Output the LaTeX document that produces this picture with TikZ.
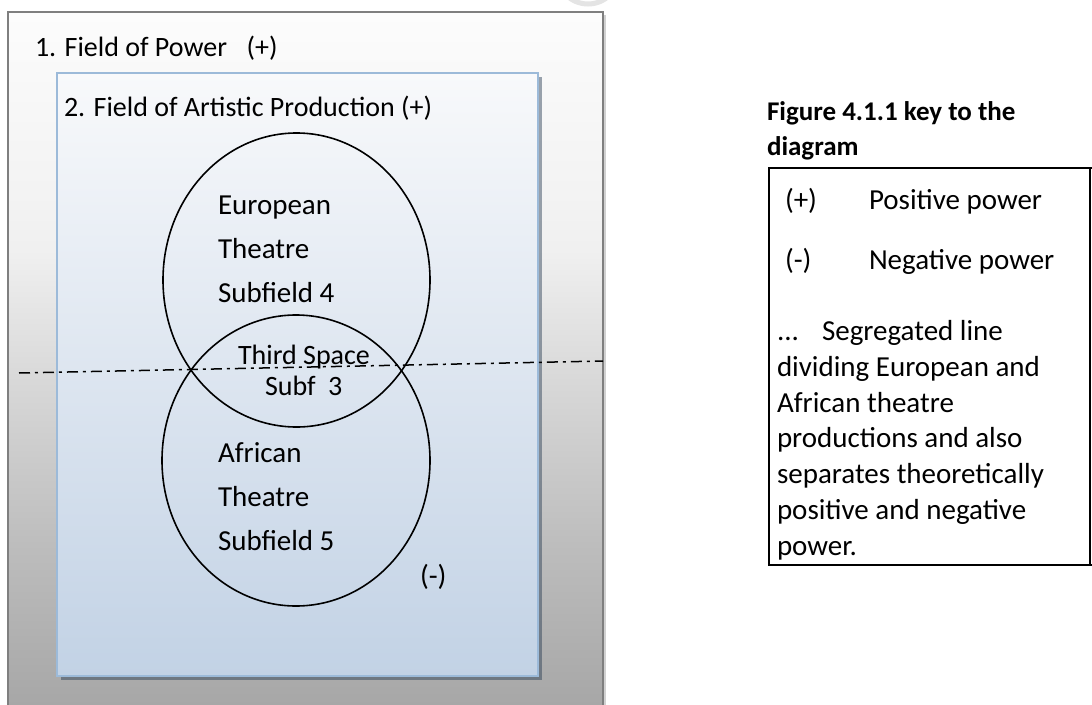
\documentclass[tikz,border=0pt]{standalone}
\usepackage{fontspec}
\setmainfont{Carlito}
\usetikzlibrary{shapes.geometric}

\definecolor{og1}{HTML}{A6A6A6}
\definecolor{og2}{HTML}{BDBDBD}
\definecolor{og3}{HTML}{D9D9D9}
\definecolor{og4}{HTML}{F0F0F0}
\definecolor{og5}{HTML}{FCFCFC}
\definecolor{outerline}{HTML}{7F7F7F}
\definecolor{innertop}{HTML}{F8F9FB}
\definecolor{innerbot}{HTML}{C2D2E5}
\definecolor{innerline}{HTML}{9CBAD9}
\definecolor{innershadow}{HTML}{24384F}
\definecolor{markgray}{HTML}{E4E4E4}

% grey field: nearly white at the top, darkening towards the bottom
\pgfdeclareverticalshading{outershade}{100bp}{%
  color(0bp)=(og1); color(25bp)=(og1); color(37bp)=(og2);
  color(49bp)=(og3); color(58bp)=(og4); color(75bp)=(og5); color(100bp)=(og5)}

\tikzset{
  txt/.style={anchor=base west, inner sep=0pt, outer sep=0pt,
    font=\fontsize{29}{35}\selectfont},
  titletxt/.style={txt, font=\fontsize{28}{34}\selectfont},
  captxt/.style={anchor=base west, inner sep=0pt, outer sep=0pt,
    font=\fontsize{27}{33}\selectfont\bfseries},
  field/.style={ellipse, draw=black, line width=1.6pt, inner sep=0pt},
  divider/.style={draw=black, line width=1.5pt,
    dash pattern=on 11pt off 5pt on 3pt off 5pt},
}

\begin{document}
\begin{tikzpicture}[x=1pt,y=-1pt]
\useasboundingbox (0,0) rectangle (1092,704);
\clip (0,0) rectangle (1092,704);
\fill[white] (0,0) rectangle (1092,704);

% small grey mark at the top edge
\draw[markgray, line width=5pt] (588,-27) circle (31);

% 1. Field of Power
\fill[black, opacity=0.18] (11,15) rectangle (606,712);
\path[shading=outershade] (8,12) rectangle (603,712);
\draw[outerline, line width=2pt] (8,712) -- (8,12) -- (603,12) -- (603,712);
\node[titletxt] (fop) at (35,56) {1. Field of Power\hspace{0.7em}(+)};

% 2. Field of Artistic Production
\fill[innershadow, opacity=0.45] (61,77) rectangle (542,680);
\path[top color=innertop, bottom color=innerbot] (57,73) rectangle (538,676);
\draw[innerline, line width=2pt] (57,73) rectangle (538,676);
\node[titletxt] (fap) at (64,116) {2. Field of Artistic Production (+)};

% the two subfields
\node[field, minimum width=267pt, minimum height=294pt] (euro) at (296.5,280) {};
\node[field, minimum width=268pt, minimum height=291pt] (afri) at (296,460.5) {};

% segregating line
\coordinate (segL) at (19,373);
\coordinate (segR) at (603,361);
\draw[divider] (segL) -- (segR);

% subfield labels
\node[txt] (eu1) at (218,214) {European};
\node[txt] (eu2) at (218,258) {Theatre};
\node[txt] (eu3) at (218,302) {Subfield 4};
\node[titletxt] (ts1) at (238,364) {Third Space};
\node[titletxt] (ts2) at (265,395) {Subf\hspace{0.45em}3};
\node[txt] (af1) at (218,462) {African};
\node[txt] (af2) at (218,506) {Theatre};
\node[txt] (af3) at (218,550) {Subfield 5};
\node[txt] (neg) at (420,585) {(-)};

% key
\node[captxt] (cap1) at (767,120) {Figure 4.1.1 key to the};
\node[captxt] (cap2) at (767,155) {diagram};
\draw[black, line width=1.5pt] (1092,168) -- (769,168) -- (769,565) -- (1092,565);
\draw[black, line width=1.5pt] (1090,168) -- (1090,565);
\node[txt] (k1a) at (785,209) {(+)};
\node[txt] (k1b) at (869,209) {Positive power};
\node[txt] (k2a) at (785,269) {(-)};
\node[txt] (k2b) at (869,269) {Negative power};
\node[txt] (k3a) at (777,340) {...};
\node[txt] (k3b) at (822,340) {Segregated line};
\node[txt] (k4) at (777,376) {dividing European and};
\node[txt] (k5) at (777,412) {African theatre};
\node[txt] (k6) at (777,447) {productions and also};
\node[txt] (k7) at (777,483) {separates theoretically};
\node[txt] (k8) at (777,519) {positive and negative};
\node[txt] (k9) at (777,555) {power.};
\end{tikzpicture}
\end{document}
